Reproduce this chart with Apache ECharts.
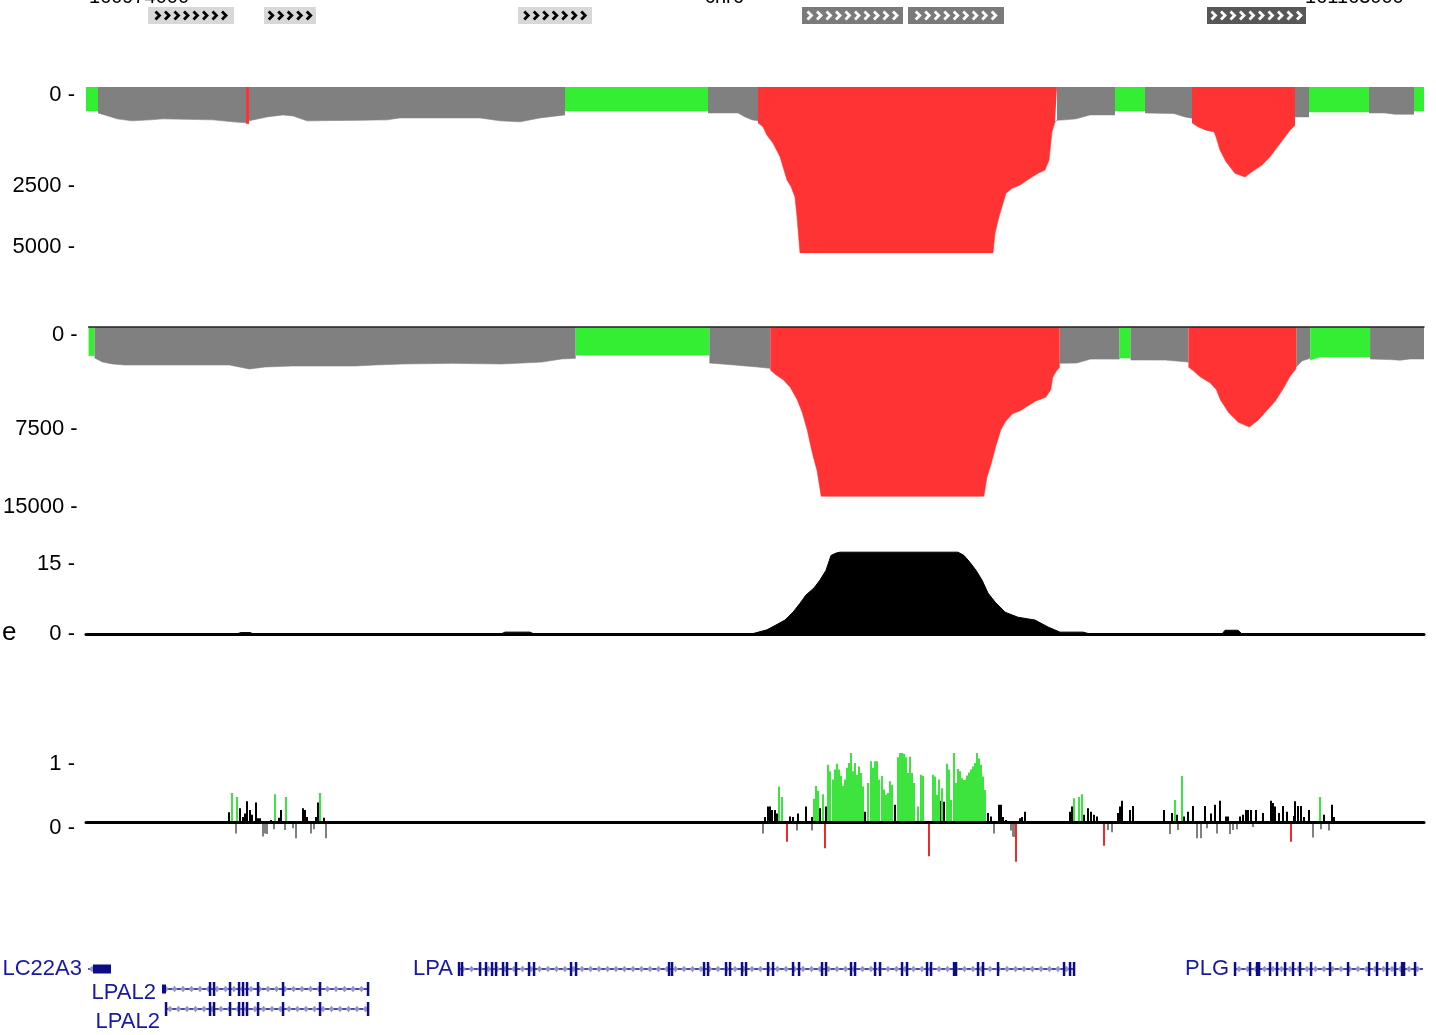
<!DOCTYPE html>
<html><head><meta charset="utf-8">
<script src="https://cdn.jsdelivr.net/npm/echarts@6/dist/echarts.min.js"></script>
<style>html,body{margin:0;padding:0;background:#fff}#c{width:1436px;height:1035px}</style>
</head><body><div id="c"></div>
<script>
// ---------- DATA (positions in bins across the view, 0..1338) ----------
const VIEW_MIN = 0, VIEW_MAX = 1338;

// Track 1 (depth, 0..5000, drawn downward): class per segment + profile points
const track1Class = ['g','n','r','n','g','n','r','n','g','n','r','n','g','n','g'];
const track1Points = [
  [[0,720],[12,720]],
  [[12,780],[22,870],[31,960],[46,1020],[64,990],[77,960],[127,990],[147,1050],[161,1080]],
  [[160,1100],[163,1110]],
  [[163,1020],[165,1020],[181,900],[197,840],[207,870],[221,1020],[277,1000],[301,990],[314,930],[394,930],[414,1020],[434,1050],[454,930],[479,840]],
  [[479,720],[622,720]],
  [[622,780],[652,780],[659,900],[666,990],[672,1020]],
  [[672,1080],[677,1200],[681,1450],[687,1690],[694,2100],[701,2800],[705,3000],[709,3310],[711,3900],[714,5000],[907,5000],[909,4400],[913,3900],[916,3600],[920,3200],[926,3050],[934,2950],[944,2750],[952,2600],[959,2500],[963,2200],[966,1350],[969,1050],[971,1000]],
  [[971,1000],[979,990],[990,960],[1004,840],[1029,840]],
  [[1029,720],[1059,720]],
  [[1059,780],[1088,800],[1099,900],[1106,940]],
  [[1106,1080],[1112,1200],[1120,1300],[1128,1350],[1130,1500],[1134,1900],[1140,2250],[1149,2600],[1159,2710],[1166,2550],[1176,2350],[1184,2100],[1194,1700],[1204,1300],[1209,1150]],
  [[1209,900],[1223,900]],
  [[1223,750],[1283,750]],
  [[1283,780],[1299,780],[1309,820],[1328,820]],
  [[1328,720],[1338,720]]
];
const track1Ticks = [0, 2500, 5000];

// Track 2 (depth, 0..15000, drawn downward)
const track2Class = ['g','n','g','n','r','n','g','n','r','n','g','n'];
const track2Points = [
  [[0,2300],[6,2300]],
  [[6,2470],[14,2800],[24,2950],[36,3030],[141,3030],[151,3190],[161,3350],[177,3190],[204,3110],[267,3110],[287,3030],[314,2950],[364,2900],[414,2950],[454,2800],[474,2550],[488,2500]],
  [[488,2250],[622,2250]],
  [[622,2870],[647,3030],[670,3190],[683,3300]],
  [[683,3430],[689,3830],[696,4200],[703,4800],[710,5800],[715,6800],[720,8200],[725,10000],[730,11500],[734,13500],[897,13500],[900,12000],[904,11000],[909,9500],[914,8200],[919,7500],[926,6900],[933,6700],[939,6400],[949,5900],[959,5600],[964,5000],[966,4000],[969,3600],[973,3200]],
  [[973,2900],[990,2870],[1004,2560],[1033,2560]],
  [[1033,2480],[1044,2480]],
  [[1044,2630],[1079,2640],[1102,2800]],
  [[1102,3200],[1107,3500],[1114,3990],[1124,4470],[1130,5000],[1134,5800],[1142,6800],[1152,7600],[1163,7980],[1172,7420],[1180,6700],[1189,5900],[1197,4900],[1204,3900],[1210,3300]],
  [[1210,3190],[1216,2700],[1224,2500]],
  [[1224,2630],[1234,2400],[1284,2400]],
  [[1284,2550],[1304,2600],[1314,2650],[1324,2550],[1338,2550]]
];
const track2Ticks = [0, 7500, 15000];

// Track 3 (signal, 0..18.5)
const track3Points = [[0,0],[150,0],[155,0.3],[164,0.3],[168,0],[415,0],[419,0.4],[444,0.4],[448,0],[665,0],[669,0.2],[681,0.9],[688,1.7],[699,3.0],[707,4.7],[714,6.6],[720,8.4],[728,9.9],[734,11.6],[740,13.7],[745,16.9],[750,17.4],[754,17.6],[872,17.6],[878,16.9],[884,15.4],[890,13.7],[896,11.6],[902,8.8],[909,6.9],[919,4.7],[932,3.6],[949,3.0],[962,1.5],[974,0.4],[997,0.4],[1004,0],[1136,0],[1139,0.8],[1152,0.8],[1156,0],[1338,0]];
const track3Ticks = [0, 15];

// Track 4 (per-base scores)
const greenBars = [[146,0.50],[151,0.43],[189,0.48],[200,0.43],[234,0.50],
 [693,0.61],[696,0.43],[728,0.40],[730,0.62],[732,0.54],[737,0.48],[742,0.98],[744,0.87],[747,0.73],[749,0.90],[751,1.0],[753,0.90],[755,0.79],[757,0.62],[759,0.73],[761,0.93],[763,1.01],[765,1.18],[767,0.87],[769,1.01],[771,0.81],[773,0.95],[775,0.84],[777,0.61],[782,0.67],[785,1.04],[787,0.93],[789,1.04],[791,1.04],[793,0.73],[796,0.79],[798,0.56],[800,0.47],[802,0.50],[804,0.70],[806,0.64],[812,1.11],[814,1.18],[816,1.18],[818,1.17],[820,1.11],[822,0.84],[824,1.12],[826,0.84],[828,0.67],[832,0.27],[835,0.81],[837,0.79],[847,0.81],[849,0.78],[851,0.47],[853,0.73],[856,0.58],[861,1.0],[863,0.90],[865,0.38],[868,1.18],[870,0.67],[872,0.91],[874,0.87],[876,0.75],[878,0.72],[880,0.73],[881,0.80],[883,0.85],[885,0.90],[887,0.95],[889,1.01],[891,1.18],[893,1.09],[895,0.98],[897,0.78],[899,0.55],
 [988,0.41],[993,0.43],[996,0.48],[1089,0.38],[1096,0.79],[1234,0.43]];
const blackBars = [[143,0.17],[154,0.24],[157,0.09],[159,0.15],[161,0.36],[164,0.21],[166,0.13],[170,0.34],[172,0.07],[174,0.07],[185,0.04],[193,0.08],[195,0.21],[217,0.24],[219,0.21],[221,0.09],[230,0.09],[232,0.34],[238,0.08],
 [679,0.09],[682,0.27],[684,0.27],[686,0.21],[689,0.21],[691,0.15],[704,0.10],[707,0.09],[712,0.15],[720,0.27],[726,0.09],[734,0.24],[740,0.27],[779,0.18],[809,0.30],[854,0.37],[858,0.35],[902,0.16],[905,0.10],[913,0.30],[915,0.30],[917,0.09],[920,0.04],[934,0.07],[936,0.09],[939,0.18],
 [984,0.18],[986,0.27],[998,0.13],[1002,0.24],[1005,0.18],[1008,0.13],[1011,0.10],[1032,0.16],[1034,0.27],[1036,0.37],[1044,0.21],[1047,0.28],[1078,0.21],[1086,0.16],[1091,0.13],[1098,0.10],[1102,0.18],[1107,0.28],[1119,0.28],[1125,0.15],[1129,0.30],[1134,0.37],[1140,0.10],[1142,0.10],[1154,0.10],[1157,0.13],[1160,0.21],[1162,0.21],[1165,0.21],[1170,0.21],[1177,0.16],[1185,0.37],[1187,0.33],[1189,0.27],[1193,0.16],[1197,0.28],[1201,0.18],[1208,0.11],[1209,0.36],[1212,0.28],[1215,0.28],[1218,0.09],[1223,0.21],[1238,0.13],[1246,0.30],[1248,0.09]];
const greyBars = [[150,-0.19],[177,-0.24],[179,-0.19],[181,-0.20],[188,-0.12],[199,-0.13],[207,-0.10],[210,-0.27],[225,-0.19],[228,-0.12],[240,-0.27],
 [677,-0.19],[711,-0.14],[726,-0.14],[908,-0.19],[925,-0.14],[927,-0.24],[928,-0.25],
 [1022,-0.13],[1026,-0.17],[1084,-0.20],[1092,-0.13],[1111,-0.27],[1115,-0.27],[1121,-0.10],[1131,-0.19],[1144,-0.20],[1147,-0.13],[1151,-0.12],[1167,-0.08],[1227,-0.26],[1235,-0.12],[1243,-0.14]];
const redBars = [[701,-0.33],[739,-0.44],[843,-0.58],[930,-0.67],[1018,-0.40],[1205,-0.33]];
const track4Ticks = [0, 1];

// Top feature track
const featureSpans = [[62,148],[178,230],[432,506],[716,817],[822,918],[1121,1220]];
const featureShade = [0,0,0,1,1,2];

// Genes
const geneNames = ['LC22A3','LPAL2','LPAL2','LPA','PLG'];
const geneRows  = [0,1,2,0,0];
const geneSpans = [[2,25],[76,282],[80,282],[373,988],[1149,1337]];
const geneExons = [
  [[7,25]],
  [[76,80],[124,124],[128,128],[144,144],[153,153],[157,157],[161,161],[172,172],[197,197],[234,234],[282,282]],
  [[80,80],[124,124],[128,128],[144,144],[153,153],[157,157],[161,161],[172,172],[197,197],[234,234],[282,282]],
  [[373,373],[376,376],[394,394],[400,400],[406,406],[410,410],[417,417],[421,421],[430,430],[443,443],[448,448],[485,485],[490,490],[583,583],[586,586],[618,618],[622,622],[640,640],[644,644],[656,656],[660,660],[682,682],[687,687],[707,707],[713,713],[736,736],[740,740],[765,765],[769,769],[789,789],[794,794],[816,816],[821,821],[841,841],[845,845],[868,868],[870,870],[892,892],[897,897],[912,912],[978,978],[984,984],[988,988]],
  [[1149,1151],[1164,1164],[1171,1171],[1173,1173],[1184,1184],[1191,1191],[1199,1199],[1207,1207],[1214,1214],[1225,1227],[1244,1244],[1262,1262],[1283,1283],[1291,1291],[1301,1301],[1309,1309],[1316,1316],[1318,1318],[1329,1329]]
];

// ---------- STYLE ----------
const FONT = "'Liberation Sans', Arial, sans-serif";
const CLASS_COLOR = { g: '#33ee33', n: '#808080', r: '#ff3333' };
const FEATURE_FILL = ['#d8d8d8', '#7a7a7a', '#575757'];
const FEATURE_CHEV = ['#000000', '#ffffff', '#ffffff'];
const GENE_COLOR = '#0c0c88';
const GENE_TEXT = '#1818a8';
const GENE_CHEV = '#9494cc';
const LABEL_DY = [0, 4, 13];
// vertical nudges (px, + = down) of individual axis labels, by grid index and tick value
const LABEL_NUDGE = { 1: { 0: 8, 2500: 16, 5000: -6 }, 2: { 0: 8, 7500: 8, 15000: -8 }, 4: { 0: 6 } };

const LEFT = 86, RIGHT = 12;
const grids = [
  { left: LEFT, right: RIGHT, top: 7, height: 17 },
  { left: LEFT, right: RIGHT, top: 87, height: 166 },
  { left: LEFT, right: RIGHT, top: 327, height: 188 },
  { left: LEFT, right: RIGHT, top: 548, height: 86 },
  { left: LEFT, right: RIGHT, top: 749, height: 132 },
  { left: LEFT, right: RIGHT, top: 959, height: 60 }
];

function hiddenX(i) {
  return { gridIndex: i, type: 'value', min: VIEW_MIN, max: VIEW_MAX, show: false };
}
function lineX(i, opts) {
  return Object.assign({ gridIndex: i, type: 'value', min: VIEW_MIN, max: VIEW_MAX, z: 10,
    axisTick: { show: false }, axisLabel: { show: false }, splitLine: { show: false } }, opts);
}
const labelTextStyle = { fontSize: 22, color: '#000', fontFamily: FONT };
function richKey(n) { return (n >= 0 ? 'd' : 'u') + Math.abs(n); }
function labelY(i, min, max, interval, ticks, inverse) {
  const nudge = LABEL_NUDGE[i] || {};
  const rich = {};
  Object.keys(nudge).forEach(k => {
    const n = nudge[k];
    rich[richKey(n)] = Object.assign({ padding: n >= 0 ? [n * 2, 0, 0, 0] : [0, 0, -n * 2, 0] }, labelTextStyle);
  });
  return { gridIndex: i, type: 'value', min, max, interval, inverse,
    axisLine: { show: false }, axisTick: { show: false }, splitLine: { show: false },
    axisLabel: Object.assign({ show: true, margin: 11, rich,
      formatter: v => {
        if (ticks.indexOf(v) < 0) return '';
        const s = v + ' -';
        return nudge[v] !== undefined ? '{' + richKey(nudge[v]) + '|' + s + '}' : s;
      } }, labelTextStyle) };
}

const xAxes = [
  hiddenX(0), hiddenX(1),
  lineX(2, { position: 'top', axisLine: { show: true, onZero: false, lineStyle: { color: '#222', width: 1.5 } } }),
  lineX(3, { axisLine: { show: true, onZero: true, lineStyle: { color: '#000', width: 3 } } }),
  lineX(4, { axisLine: { show: true, onZero: true, lineStyle: { color: '#000', width: 3 } } }),
  hiddenX(5)
];
const yAxes = [
  { gridIndex: 0, type: 'value', min: 0, max: 1, show: false },
  labelY(1, 0, 5000, 2500, track1Ticks, true),
  labelY(2, 0, 15000, 7500, track2Ticks, true),
  labelY(3, 0, 18.5, 15, track3Ticks, false),
  labelY(4, -1, 1.25, 1, track4Ticks, false),
  { gridIndex: 5, type: 'value', min: 0, max: 3, inverse: true, show: false }
];

const series = [];
function addTrack(grid, classes, points) {
  classes.forEach((cls, k) => {
    series.push({ type: 'line', xAxisIndex: grid, yAxisIndex: grid, data: points[k], symbol: 'none',
      silent: true, z: cls === 'r' ? 3 : 2,
      lineStyle: { width: 0.6, color: CLASS_COLOR[cls] },
      areaStyle: { color: CLASS_COLOR[cls], opacity: 1 } });
  });
}
addTrack(1, track1Class, track1Points);
addTrack(2, track2Class, track2Points);

series.push({ type: 'line', xAxisIndex: 3, yAxisIndex: 3, data: track3Points, symbol: 'none', silent: true,
  lineStyle: { width: 1, color: '#000' }, areaStyle: { color: '#000', opacity: 1 } });

[[greyBars, '#808080'], [redBars, '#ee2a2a'], [blackBars, '#000000'], [greenBars, '#3ee43e']].forEach(([d, c]) => {
  series.push({ type: 'bar', xAxisIndex: 4, yAxisIndex: 4, data: d, barWidth: 2, barGap: '-100%',
    silent: true, itemStyle: { color: c } });
});

// top feature boxes
series.push({ type: 'custom', xAxisIndex: 0, yAxisIndex: 0, silent: true,
  data: featureSpans.map((s, i) => [s[0], s[1], featureShade[i]]),
  renderItem: function (params, api) {
    const shade = api.value(2);
    const p0 = api.coord([api.value(0), 1]), p1 = api.coord([api.value(1), 0]);
    const x0 = p0[0], y0 = p0[1], x1 = p1[0], y1 = p1[1];
    const ch = [{ type: 'rect', shape: { x: x0, y: y0, width: x1 - x0, height: y1 - y0 }, style: { fill: FEATURE_FILL[shade] } }];
    const step = 9.5, n = Math.floor((x1 - x0 - 3) / step), cy = (y0 + y1) / 2;
    const start = x0 + ((x1 - x0) - n * step) / 2 + 2.5;
    for (let i = 0; i < n; i++) {
      const cx = start + i * step;
      ch.push({ type: 'polyline', shape: { points: [[cx, cy - 4], [cx + 4, cy], [cx, cy + 4]] },
        style: { stroke: FEATURE_CHEV[shade], lineWidth: 2.8, fill: null } });
    }
    return { type: 'group', children: ch };
  } });

// genes
series.push({ type: 'custom', xAxisIndex: 5, yAxisIndex: 5, silent: true,
  data: geneSpans.map((s, i) => [s[0], s[1], geneRows[i], i]),
  renderItem: function (params, api) {
    const row = api.value(2), gi = api.value(3);
    const a = api.coord([api.value(0), row + 0.5]), b = api.coord([api.value(1), row + 0.5]);
    const y = a[1];
    const ch = [{ type: 'rect', shape: { x: a[0], y: y - 0.7, width: b[0] - a[0], height: 1.4 }, style: { fill: GENE_COLOR } }];
    for (let x = a[0] + 4; x < b[0] - 2; x += 8.5) {
      ch.push({ type: 'polygon', shape: { points: [[x - 2.8, y], [x, y - 3.2], [x + 2.8, y], [x, y + 3.2]] }, style: { fill: GENE_CHEV } });
    }
    geneExons[gi].forEach(e => {
      const p = api.coord([e[0], row + 0.5]), q = api.coord([e[1], row + 0.5]);
      const wide = (e[1] - e[0]) >= 3;
      const w = Math.max(2.5, q[0] - p[0]);
      const h = wide ? 9 : 14;
      ch.push({ type: 'rect', shape: { x: p[0] - (wide ? 0 : 1.2), y: y - h / 2, width: w, height: h }, style: { fill: GENE_COLOR } });
    });
    ch.push({ type: 'text', style: { text: geneNames[gi], x: a[0] - 6, y: y + LABEL_DY[row],
      align: 'right', verticalAlign: 'middle', font: '22px ' + FONT, fill: GENE_TEXT } });
    return { type: 'group', children: ch };
  } });

const chart = echarts.init(document.getElementById('c'), null, { renderer: 'canvas' });
chart.setOption({
  animation: false,
  backgroundColor: '#ffffff',
  grid: grids,
  xAxis: xAxes,
  yAxis: yAxes,
  series: series,
  graphic: [
    { type: 'text', left: 89, top: -13, style: { text: '160974000', font: '20px ' + FONT, fill: '#000' } },
    { type: 'text', left: 705, top: -13, style: { text: 'chr6', font: '20px ' + FONT, fill: '#000' } },
    { type: 'text', left: 1305, top: -13, style: { text: '161163000', font: '20px ' + FONT, fill: '#000' } },
    { type: 'text', left: 2, top: 620, style: { text: 'e', font: '26px ' + FONT, fill: '#000' } }
  ]
});
</script>
</body></html>
